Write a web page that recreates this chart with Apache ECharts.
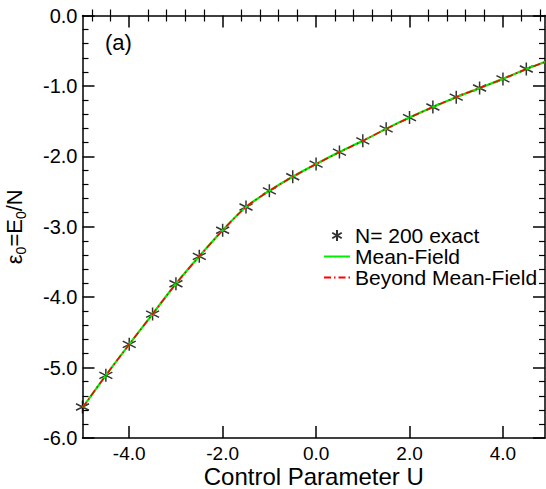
<!DOCTYPE html>
<html>
<head>
<meta charset="utf-8">
<script src="https://cdn.jsdelivr.net/npm/echarts@6/dist/echarts.min.js"></script>
<style>
  html, body { margin: 0; padding: 0; background: #fff; }
  #chart { width: 546px; height: 489px; }
</style>
</head>
<body>
<div id="chart"></div>
<script>
// control parameter U where the exact N=200 energies were computed
const uValues = [-5.0, -4.5, -4.0, -3.5, -3.0, -2.5, -2.0, -1.5, -1.0, -0.5,
  0.0, 0.5, 1.0, 1.5, 2.0, 2.5, 3.0, 3.5, 4.0, 4.5]
const exactEnergy = [-5.56, -5.11, -4.67, -4.24, -3.81, -3.42, -3.05, -2.72, -2.49, -2.29,
  -2.11, -1.94, -1.78, -1.61, -1.45, -1.30, -1.16, -1.03, -0.90, -0.76]

// curves run to the right edge of the frame
const curveU = [-5.0, -4.5, -4.0, -3.5, -3.0, -2.5, -2.0, -1.5, -1.0, -0.5,
  0.0, 0.5, 1.0, 1.5, 2.0, 2.5, 3.0, 3.5, 4.0, 4.5, 4.9]
const meanFieldEnergy = [-5.57, -5.11, -4.67, -4.24, -3.81, -3.42, -3.05, -2.72, -2.49, -2.29,
  -2.11, -1.94, -1.78, -1.61, -1.45, -1.30, -1.16, -1.03, -0.90, -0.76, -0.66]
const beyondEnergy = [-5.57, -5.11, -4.67, -4.24, -3.81, -3.42, -3.05, -2.72, -2.49, -2.29,
  -2.11, -1.94, -1.78, -1.61, -1.45, -1.30, -1.16, -1.03, -0.90, -0.76, -0.66]

const xMajorTicks = [-4, -2, 0, 2, 4]
const xMinorTicks = [-4.8, -4.4, -3.6, -3.2, -2.8, -2.4, -1.6, -1.2, -0.8, -0.4,
  0.4, 0.8, 1.2, 1.6, 2.4, 2.8, 3.2, 3.6, 4.4, 4.8]

const fontFamily = '"Liberation Sans", Arial, Helvetica, sans-serif'
const asterisk = 'path://M0,0L0,20M-8.66,5L8.66,15M-8.66,15L8.66,5'
const X_MIN = -5
const X_MAX = 4.9

const lineStyle = { color: '#000', width: 1.5 }
const minorLineStyle = { color: '#000', width: 1.2 }

function xAxisBase(position) {
  return {
    type: 'value',
    position,
    min: X_MIN,
    max: X_MAX,
    splitLine: { show: false },
    axisLine: { show: true, onZero: false, lineStyle },
  }
}

function yAxisBase(position) {
  return {
    type: 'value',
    position,
    min: -6,
    max: 0,
    interval: 1,
    splitLine: { show: false },
    axisLine: { show: true, onZero: false, lineStyle },
    axisTick: { show: true, inside: true, length: 12, lineStyle },
    minorTick: { show: true, splitNumber: 5, length: 6, lineStyle: minorLineStyle },
  }
}

const chart = echarts.init(document.getElementById('chart'), null, { renderer: 'svg' })

chart.setOption({
  animation: false,
  textStyle: { fontFamily },
  grid: { left: 82.5, right: 1, top: 15.5, bottom: 51, outerBoundsMode: 'none', containLabel: false },
  xAxis: [
    {
      ...xAxisBase('bottom'),
      axisTick: { show: true, inside: true, length: 12, customValues: xMajorTicks, lineStyle },
      axisLabel: {
        customValues: xMajorTicks,
        formatter: (v) => v.toFixed(1),
        color: '#000',
        fontSize: 19,
        margin: 6,
      },
      name: 'Control Parameter U',
      nameLocation: 'middle',
      nameGap: 26,
      nameMoveOverlap: false,
      nameTextStyle: { color: '#000', fontSize: 24, fontFamily },
    },
    {
      ...xAxisBase('bottom'),
      axisLine: { show: false },
      axisTick: { show: true, inside: true, length: 6, customValues: xMinorTicks, lineStyle: minorLineStyle },
      axisLabel: { show: false },
    },
    {
      ...xAxisBase('top'),
      axisTick: { show: true, inside: true, length: 12, customValues: xMajorTicks, lineStyle },
      axisLabel: { show: false },
    },
    {
      ...xAxisBase('top'),
      axisLine: { show: false },
      axisTick: { show: true, inside: true, length: 6, customValues: xMinorTicks, lineStyle: minorLineStyle },
      axisLabel: { show: false },
    },
  ],
  yAxis: [
    {
      ...yAxisBase('left'),
      axisLabel: {
        formatter: (v) => v.toFixed(1),
        color: '#000',
        fontSize: 20,
        margin: 5,
      },
      name: '{m|ε}{s|0}{m|=E}{s|0}{m|/N}',
      nameLocation: 'middle',
      nameRotate: 90,
      nameGap: 55,
      nameMoveOverlap: false,
      nameTextStyle: {
        color: '#000',
        rich: {
          m: { fontSize: 22, lineHeight: 26, color: '#000', fontFamily, verticalAlign: 'middle' },
          s: { fontSize: 14, lineHeight: 12, color: '#000', fontFamily, verticalAlign: 'bottom' },
        },
      },
    },
    {
      ...yAxisBase('right'),
      axisLabel: { show: false },
    },
  ],
  legend: {
    orient: 'vertical',
    left: 318,
    top: 220,
    itemWidth: 26,
    itemHeight: 11,
    itemGap: 0,
    textStyle: { color: '#000', fontSize: 21, lineHeight: 21, fontFamily },
    data: [
      { name: 'N= 200 exact' },
      { name: 'Mean-Field', itemStyle: { opacity: 0 } },
      { name: 'Beyond Mean-Field', itemStyle: { opacity: 0 } },
    ],
  },
  graphic: [
    {
      type: 'text',
      left: 105,
      top: 31,
      style: { text: '(a)', fontSize: 22, fill: '#000', fontFamily },
    },
  ],
  series: [
    {
      name: 'N= 200 exact',
      type: 'scatter',
      symbol: asterisk,
      symbolSize: 13,
      itemStyle: { color: 'rgba(0,0,0,0)', borderColor: '#000', borderWidth: 1.5 },
      data: uValues.map((u, i) => [u, exactEnergy[i]]),
      z: 2,
    },
    {
      name: 'Mean-Field',
      type: 'line',
      symbol: 'none',
      smooth: 0.3,
      lineStyle: { color: '#00ee00', width: 2.2 },
      itemStyle: { color: '#00ee00' },
      data: curveU.map((u, i) => [u, meanFieldEnergy[i]]),
      z: 3,
    },
    {
      name: 'Beyond Mean-Field',
      type: 'line',
      symbol: 'none',
      smooth: 0.3,
      lineStyle: { color: '#ff0000', width: 1.6, type: [7, 3, 1.5, 3] },
      itemStyle: { color: '#ff0000' },
      data: curveU.map((u, i) => [u, beyondEnergy[i]]),
      z: 4,
    },
  ],
})
</script>
</body>
</html>
